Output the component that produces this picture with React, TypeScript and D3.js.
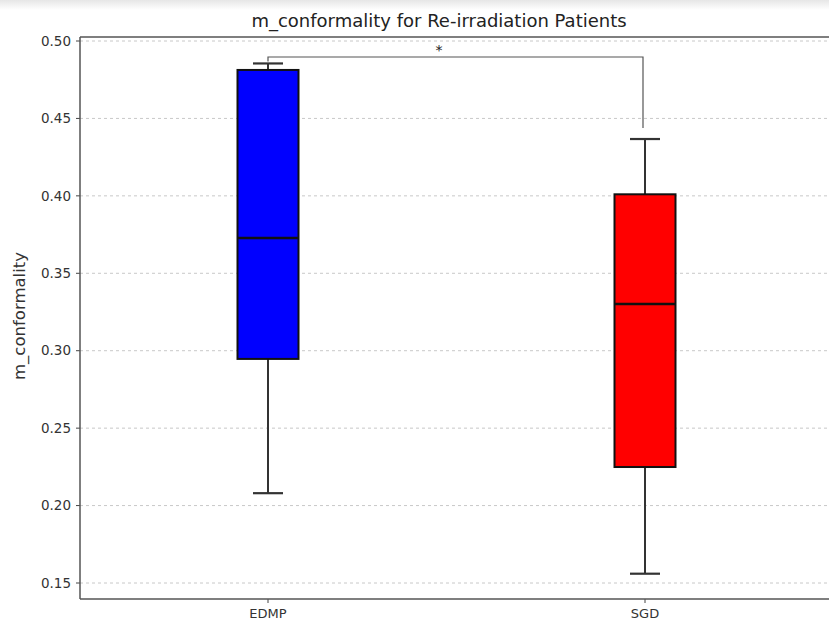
import React from "react";
import * as d3 from "d3";

const categories = ["EDMP", "SGD"];
const whiskerLow = [0.208, 0.156];
const q1 = [0.2947, 0.2249];
const median = [0.3728, 0.3302];
const q3 = [0.4813, 0.4010];
const whiskerHigh = [0.4855, 0.4367];
const boxColors = ["#0000ff", "#ff0000"];
const yTicks = [0.15, 0.2, 0.25, 0.3, 0.35, 0.4, 0.45, 0.5];
const title = "m_conformality for Re-irradiation Patients";
const yLabel = "m_conformality";
const sigLabel = "*";

export default function App() {
  const W = 829, H = 625;
  const left = 80, top = 37, bottom = 599, right = 829;
  const y = d3.scaleLinear().domain([0.15, 0.5]).range([583, 41]);
  const x = d3.scalePoint<string>().domain(categories).range([268, 645]);
  const boxW = 61;
  const capW = 30;
  const font = "DejaVu Sans, sans-serif";
  const bracketY = 57;
  return (
    <svg width={W} height={H} style={{ position: "absolute", left: 0, top: 0 }}>
      <defs>
        <linearGradient id="topfade" x1="0" x2="0" y1="0" y2="1">
          <stop offset="0" stopColor="#e6e6e6" />
          <stop offset="1" stopColor="#ffffff" />
        </linearGradient>
      </defs>
      <rect x={0} y={0} width={W} height={H} fill="#fff" />
      <rect x={0} y={0} width={W} height={10} fill="url(#topfade)" />
      <text x={439} y={27} textAnchor="middle" fontFamily={font} fontSize={18} fill="#222">{title}</text>
      {yTicks.map((t) => (
        <g key={t}>
          <line x1={left} x2={right} y1={y(t)} y2={y(t)} stroke="#c8c8c8" strokeWidth={1} strokeDasharray="3,3" />
          <line x1={left - 4} x2={left} y1={y(t)} y2={y(t)} stroke="#444" strokeWidth={1} />
          <text x={left - 9} y={y(t)} dy="0.35em" textAnchor="end" fontFamily={font} fontSize={13.5} fill="#333">{t.toFixed(2)}</text>
        </g>
      ))}
      {categories.map((c, i) => {
        const cx = x(c)!;
        return (
          <g key={c}>
            <line x1={cx} x2={cx} y1={y(whiskerHigh[i])} y2={y(q3[i])} stroke="#333" strokeWidth={2} />
            <line x1={cx} x2={cx} y1={y(q1[i])} y2={y(whiskerLow[i])} stroke="#333" strokeWidth={2} />
            <line x1={cx - capW / 2} x2={cx + capW / 2} y1={y(whiskerHigh[i])} y2={y(whiskerHigh[i])} stroke="#333" strokeWidth={2.2} />
            <line x1={cx - capW / 2} x2={cx + capW / 2} y1={y(whiskerLow[i])} y2={y(whiskerLow[i])} stroke="#333" strokeWidth={2.2} />
            <rect x={cx - boxW / 2} y={y(q3[i])} width={boxW} height={y(q1[i]) - y(q3[i])} fill={boxColors[i]} stroke="#111" strokeWidth={2} />
            <line x1={cx - boxW / 2} x2={cx + boxW / 2} y1={y(median[i])} y2={y(median[i])} stroke="#111" strokeWidth={2.5} />
            <line x1={cx} x2={cx} y1={bottom} y2={bottom + 4} stroke="#444" strokeWidth={1} />
            <text x={cx} y={bottom + 19} textAnchor="middle" fontFamily={font} fontSize={13} fill="#333">{c}</text>
          </g>
        );
      })}
      <path
        d={`M${x(categories[0])},${y(whiskerHigh[0]) - 2} V${bracketY} H${x(categories[1])! - 2} V${y(whiskerHigh[1]) - 11}`}
        fill="none" stroke="#555" strokeWidth={1.2}
      />
      <text x={439} y={bracketY - 2} textAnchor="middle" fontFamily={font} fontSize={14} fill="#222">{sigLabel}</text>
      <line x1={left} x2={left} y1={top} y2={bottom} stroke="#555" strokeWidth={1.5} />
      <line x1={left} x2={right} y1={top} y2={top} stroke="#555" strokeWidth={1.5} />
      <line x1={left} x2={right} y1={bottom} y2={bottom} stroke="#555" strokeWidth={1.5} />
      <text transform={`translate(25,${(top + bottom) / 2 - 2}) rotate(-90)`} textAnchor="middle" fontFamily={font} fontSize={16.5} fill="#333">{yLabel}</text>
    </svg>
  );
}
